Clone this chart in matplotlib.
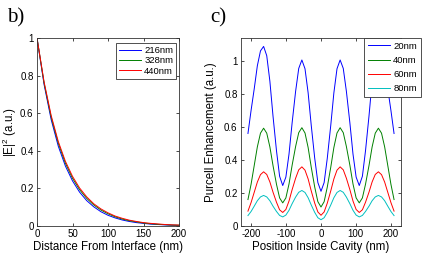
import matplotlib
matplotlib.use("Agg")
import matplotlib.pyplot as plt

plt.rcParams['font.family'] = ['Liberation Sans', 'DejaVu Sans']
plt.rcParams['axes.unicode_minus'] = False
plt.rcParams['mathtext.fontset'] = 'custom'
plt.rcParams['mathtext.rm'] = 'Liberation Sans'

# panel b) - field intensity vs distance from interface
dist = [0, 10, 20, 30, 40, 50, 60, 70, 80, 90, 100, 110, 120, 130, 140, 150, 160, 170, 180, 190, 200]
e_216 = [1.0, 0.752, 0.565, 0.424, 0.319, 0.240, 0.180, 0.135, 0.102, 0.076, 0.057, 0.043, 0.032,
         0.024, 0.018, 0.014, 0.010, 0.008, 0.006, 0.004, 0.003]
e_328 = [1.0, 0.760, 0.578, 0.440, 0.334, 0.254, 0.193, 0.147, 0.112, 0.085, 0.065, 0.049, 0.037,
         0.028, 0.022, 0.016, 0.012, 0.009, 0.007, 0.005, 0.004]
e_440 = [1.0, 0.766, 0.587, 0.449, 0.344, 0.264, 0.202, 0.155, 0.118, 0.091, 0.070, 0.053, 0.041,
         0.031, 0.024, 0.018, 0.014, 0.011, 0.008, 0.006, 0.005]
b_labels = ['216nm', '328nm', '440nm']

# panel c) - Purcell enhancement vs position inside cavity
pos = [-210, -201, -192, -183, -174, -165, -156, -147, -138, -128, -119, -110,
       -101, -92, -83, -73, -64, -55, -46, -37, -28, -18, -9, 0,
       9, 18, 28, 37, 46, 55, 64, 73, 83, 92, 101, 110,
       119, 128, 138, 147, 156, 165, 174, 183, 192, 201, 210]
p_20 = [0.56, 0.70, 0.83, 0.97, 1.06, 1.087, 1.031, 0.877, 0.666, 0.456, 0.301, 0.245,
        0.296, 0.435, 0.625, 0.815, 0.954, 1.005, 0.952, 0.806, 0.608, 0.409, 0.263, 0.21,
        0.263, 0.409, 0.608, 0.806, 0.952, 1.005, 0.954, 0.815, 0.625, 0.435, 0.296, 0.245,
        0.301, 0.456, 0.666, 0.877, 1.031, 1.087, 1.06, 0.97, 0.83, 0.70, 0.56]
p_40 = [0.16, 0.253, 0.366, 0.479, 0.562, 0.592, 0.562, 0.479, 0.366, 0.253, 0.17, 0.14,
        0.17, 0.254, 0.368, 0.481, 0.565, 0.595, 0.563, 0.475, 0.355, 0.235, 0.147, 0.115,
        0.147, 0.235, 0.355, 0.475, 0.563, 0.595, 0.565, 0.481, 0.368, 0.254, 0.17, 0.14,
        0.17, 0.253, 0.366, 0.479, 0.562, 0.592, 0.562, 0.479, 0.366, 0.253, 0.16]
p_60 = [0.09, 0.142, 0.204, 0.266, 0.311, 0.328, 0.312, 0.267, 0.205, 0.144, 0.098, 0.082,
        0.1, 0.151, 0.22, 0.289, 0.34, 0.358, 0.338, 0.285, 0.212, 0.138, 0.085, 0.065,
        0.085, 0.138, 0.212, 0.285, 0.338, 0.358, 0.34, 0.289, 0.22, 0.151, 0.1, 0.082,
        0.098, 0.144, 0.205, 0.267, 0.312, 0.328, 0.311, 0.266, 0.204, 0.142, 0.09]
p_80 = [0.063, 0.088, 0.12, 0.153, 0.176, 0.185, 0.176, 0.153, 0.12, 0.088, 0.064, 0.055,
        0.066, 0.095, 0.135, 0.175, 0.204, 0.215, 0.203, 0.171, 0.127, 0.082, 0.05, 0.038,
        0.05, 0.082, 0.127, 0.171, 0.203, 0.215, 0.204, 0.175, 0.135, 0.095, 0.066, 0.055,
        0.064, 0.088, 0.12, 0.153, 0.176, 0.185, 0.176, 0.153, 0.12, 0.088, 0.063]
c_labels = ['20nm', '40nm', '60nm', '80nm']

blue = (0, 0, 1)
green = (0, 0.5, 0)
red = (1, 0, 0)
cyan = (0, 0.75, 0.75)

W, H = 436, 262
fig = plt.figure(figsize=(W / 100, H / 100), dpi=100)

def box(x0, y0, x1, y1):
    return [x0 / W, 1 - y1 / H, (x1 - x0) / W, (y1 - y0) / H]

def style(ax):
    for s in ax.spines.values():
        s.set_linewidth(0.6)
        s.set_color('#333333')
    ax.tick_params(direction='in', length=2.5, width=0.5, labelsize=7,
                   top=True, right=True, pad=2.5)

# ---- b) ----
ax1 = fig.add_axes(box(37, 38, 179, 226))
ax1.plot(dist, e_216, color=blue, lw=0.7, label=b_labels[0])
ax1.plot(dist, e_328, color=green, lw=0.7, label=b_labels[1])
ax1.plot(dist, e_440, color=red, lw=0.7, label=b_labels[2])
ax1.set_xlim(0, 200)
ax1.set_ylim(0, 1)
ax1.set_xticks([0, 50, 100, 150, 200])
ax1.set_yticks([0, 0.2, 0.4, 0.6, 0.8, 1])
ax1.set_yticklabels(['0', '0.2', '0.4', '0.6', '0.8', '1'])
ax1.set_xlabel('Distance From Interface (nm)', fontsize=8.3, labelpad=1)
ax1.set_ylabel(r'$|\mathrm{E}|^2$ (a.u.)', fontsize=8.3, labelpad=0.5)
style(ax1)
leg1 = ax1.legend(loc='upper right', bbox_to_anchor=(176 / W, 1 - 43 / H),
                  bbox_transform=fig.transFigure, fontsize=6.8, handlelength=2.4,
                  handletextpad=0.3, labelspacing=0.15, borderpad=0.3,
                  borderaxespad=0, fancybox=False, framealpha=1)
leg1.get_frame().set_edgecolor('#333333')
leg1.get_frame().set_linewidth(0.6)

# ---- c) ----
ax2 = fig.add_axes(box(241, 38, 401, 226))
ax2.plot(pos, p_20, color=blue, lw=0.7, label=c_labels[0])
ax2.plot(pos, p_40, color=green, lw=0.7, label=c_labels[1])
ax2.plot(pos, p_60, color=red, lw=0.7, label=c_labels[2])
ax2.plot(pos, p_80, color=cyan, lw=0.7, label=c_labels[3])
ax2.set_xlim(-230, 230)
ax2.set_ylim(0, 1.138)
ax2.set_xticks([-200, -100, 0, 100, 200])
ax2.set_yticks([0, 0.2, 0.4, 0.6, 0.8, 1])
ax2.set_yticklabels(['0', '0.2', '0.4', '0.6', '0.8', '1'])
ax2.set_xlabel('Position Inside Cavity (nm)', fontsize=8.3, labelpad=1)
ax2.set_ylabel('Purcell Enhancement (a.u.)', fontsize=8.3, labelpad=5)
style(ax2)
leg2 = ax2.legend(loc='upper left', bbox_to_anchor=(364 / W, 1 - 38 / H),
                  bbox_transform=fig.transFigure, fontsize=6.8, handlelength=2.4,
                  handletextpad=0.3, labelspacing=0.55, borderpad=0.4,
                  borderaxespad=0, fancybox=False, framealpha=1)
leg2.get_frame().set_edgecolor('#333333')
leg2.get_frame().set_linewidth(0.6)

fig.text(16 / W, 1 - 17.5 / H, 'b)', family='Liberation Serif', fontsize=15,
         ha='center', va='center')
fig.text(218 / W, 1 - 17.5 / H, 'c)', family='Liberation Serif', fontsize=15,
         ha='center', va='center')

fig.savefig('out.png', dpi=100)
